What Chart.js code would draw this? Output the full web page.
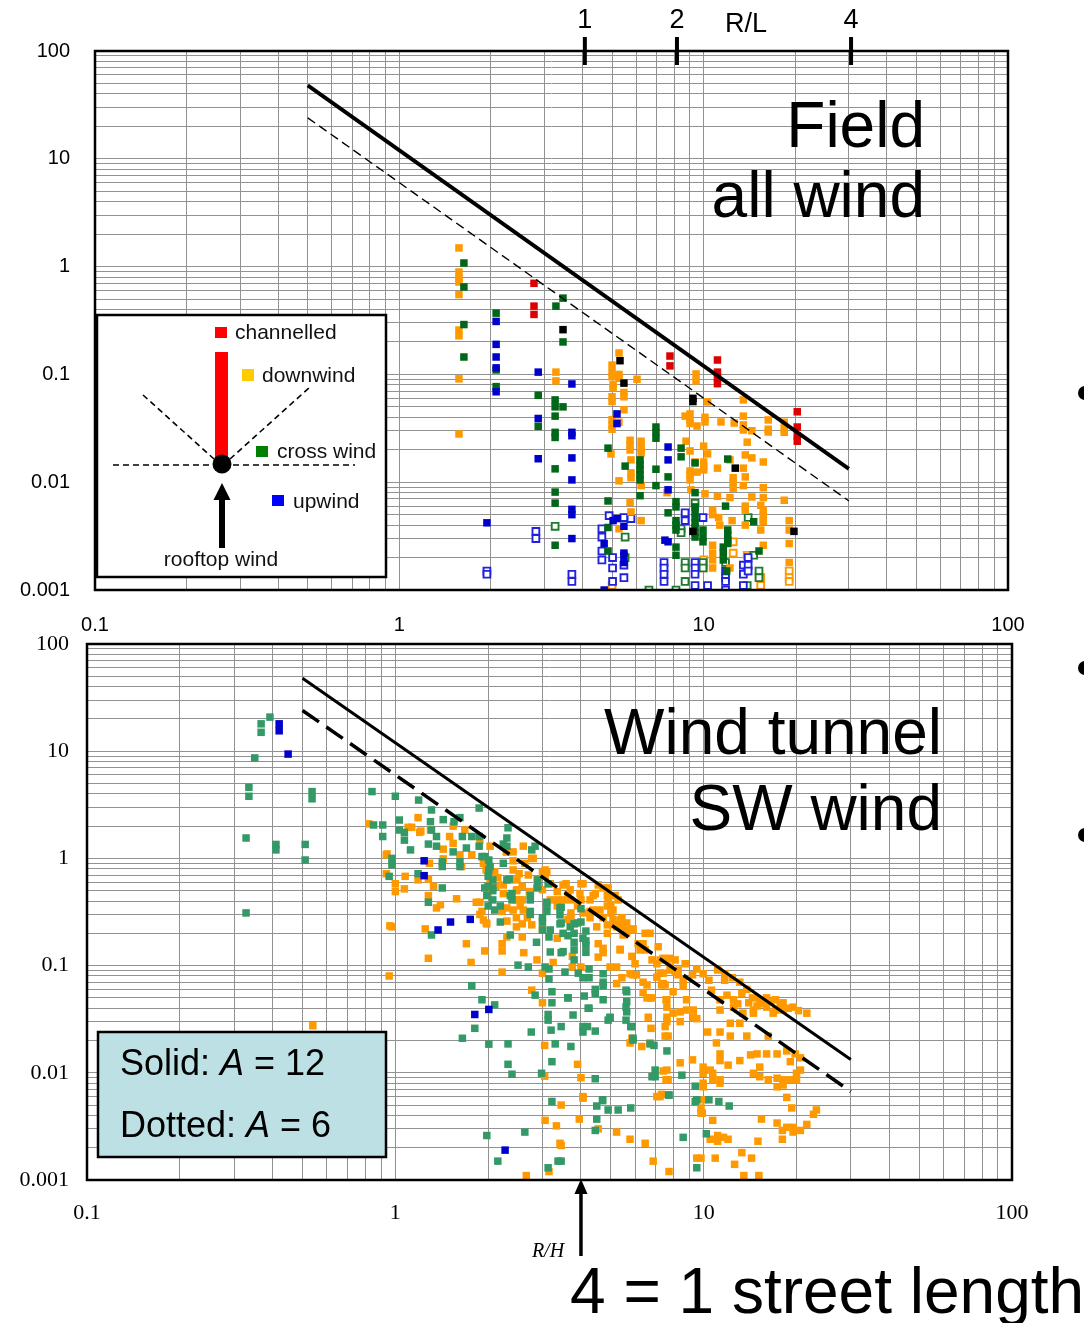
<!DOCTYPE html>
<html>
<head>
<meta charset="utf-8">
<title>Concentration vs R/H: field and wind tunnel</title>
<script src="https://cdn.jsdelivr.net/npm/chart.js@4.4.1/dist/chart.umd.min.js"></script>
<style>
  body { margin: 0; background: #fff; }
  #page { position: relative; width: 1084px; height: 1323px; overflow: hidden; }
  canvas { position: absolute; left: 0; }
  #fieldChart { top: 0; }
  #tunnelChart { top: 600px; }
</style>
</head>
<body>
<div id="page">
  <canvas id="fieldChart" width="1084" height="640"></canvas>
  <canvas id="tunnelChart" width="1084" height="723"></canvas>
</div>
<script>
// axis labels
const xTickLabels = ['0.1', '1', '10', '100'];
const yTickLabels = ['0.001', '0.01', '0.1', '1', '10', '100'];
const rlTickValues = [4.07, 8.17, 30.5];
const rlTickLabels = ['1', '2', '4'];

// model lines, C = A / (R/H)^2
const solidLine = [[0.5, 48], [30, 0.0133]];
const dottedLine = [[0.5, 24], [30, 0.0067]];
const lineNames = ['Solid', 'Dotted'];
const lineA = [12, 6];

// ---- field data (top) ----
const topRed = [[2.77,0.70],[2.77,0.43],[2.77,0.36],[7.75,0.148],[7.75,0.12],[11.1,0.136],[11.1,0.105],[11.1,0.093],
  [11.1,0.082],[20.3,0.045],[20.3,0.0325],[20.3,0.027],[20.3,0.024]];
const topBlack = [[3.45,0.26],[5.31,0.134],[5.47,0.083],[9.22,0.06],[9.22,0.056],[12.7,0.0135],[19.8,0.0035],[9.22,0.0035]];
const topOrange = [[1.57,1.49],[1.57,0.89],[1.57,0.78],[1.57,0.72],[1.57,0.55],[1.57,0.258],[1.57,0.228],[1.57,0.091],
  [1.57,0.028],[3.27,0.105],[3.27,0.087],[5.27,0.158],[5.0,0.122],[5.0,0.105],[5.0,0.095],[5.27,0.1],[5.27,0.092],
  [5.04,0.08],[5.04,0.075],[5.47,0.068],[5.47,0.062],[5.0,0.062],[5.0,0.056],[6.04,0.09],[5.47,0.047],[5.0,0.038],
  [5.0,0.034],[5.0,0.031],[5.27,0.036],[5.73,0.0245],[5.73,0.022],[5.73,0.0199],[6.23,0.024],[6.23,0.021],[6.23,0.0187],
  [4.96,0.0183],[5.77,0.0161],[5.77,0.0122],[5.77,0.011],[5.27,0.0103],[6.23,0.0093],[5.73,0.0065],[5.77,0.0053],
  [6.23,0.0044],[5.27,0.0037],[9.44,0.101],[9.44,0.087],[10.3,0.0556],[13.5,0.058],[13.5,0.041],[13.5,0.034],[13.5,0.0305],
  [14.4,0.03],[16.3,0.0378],[16.3,0.031],[16.3,0.0292],[18.4,0.036],[18.4,0.031],[18.4,0.029],[11.4,0.0362],[12.6,0.0354],
  [10.1,0.04],[10.1,0.0362],[9.51,0.0332],[9.02,0.043],[9.02,0.0378],[9.02,0.035],[8.69,0.041],[13.9,0.0235],[8.75,0.024],
  [10.0,0.0216],[9.02,0.0195],[10.3,0.0183],[13.7,0.0179],[14.4,0.0168],[15.7,0.0154],[12.2,0.0161],[10.0,0.0154],
  [10.0,0.014],[10.0,0.013],[11.1,0.0135],[13.5,0.0135],[9.37,0.0154],[9.02,0.0127],[9.02,0.0117],[9.02,0.0105],
  [9.51,0.0124],[12.5,0.011],[12.5,0.0099],[12.5,0.0088],[13.7,0.0112],[13.5,0.0093],[15.7,0.0089],[14.4,0.0073],
  [15.7,0.0072],[18.4,0.0068],[11.1,0.0074],[10.1,0.0078],[9.08,0.0085],[12.2,0.0072],[15.4,0.0061],[15.7,0.0055],
  [15.7,0.005],[15.7,0.0044],[15.7,0.0043],[13.7,0.006],[13.7,0.0055],[10.7,0.0055],[10.7,0.005],[11.2,0.0047],
  [19.1,0.0044],[19.1,0.0036],[19.1,0.0027],[19.1,0.0018],[15.4,0.0036],[13.7,0.004],[12.4,0.0044],[11.3,0.004],
  [10.7,0.0026],[10.7,0.0022],[10.7,0.0019],[10.7,0.0016],[15.7,0.0026],[12.2,0.0016],[7.58,0.008]];
const topOrangeOpen = [[10.0,0.0019],[10.0,0.0016],[12.5,0.0028],[12.5,0.0022],[13.9,0.0021],[15.4,0.0013],[15.4,0.0011],
  [19.1,0.0015],[19.1,0.0013],[19.1,0.0012],[5.0,0.0011]];
const topGreen = [[1.63,1.08],[1.63,0.647],[1.63,0.29],[1.63,0.145],[2.08,0.37],[2.08,0.11],[2.08,0.077],[3.45,0.51],
  [3.45,0.2],[3.45,0.05],[3.27,0.43],[2.86,0.064],[2.86,0.033],[3.25,0.058],[3.25,0.05],[3.25,0.041],[3.25,0.029],
  [3.25,0.026],[3.25,0.0133],[3.25,0.0081],[3.25,0.0064],[3.25,0.0026],[4.85,0.0207],[4.85,0.0067],[4.85,0.0038],
  [4.85,0.0023],[5.52,0.0141],[6.18,0.0161],[6.18,0.0145],[6.18,0.013],[6.18,0.0117],[6.18,0.0105],[6.18,0.0075],
  [6.97,0.0325],[6.97,0.029],[6.97,0.0256],[6.97,0.0132],[6.97,0.0093],[7.64,0.0112],[7.64,0.0052],[8.11,0.0066],
  [8.11,0.0059],[8.11,0.0044],[8.11,0.004],[8.11,0.0036],[8.11,0.0025],[8.11,0.0021],[8.43,0.0207],[8.43,0.0172],
  [9.37,0.0151],[9.37,0.008],[9.37,0.0059],[9.37,0.0053],[9.37,0.0047],[9.37,0.0042],[9.37,0.0038],[9.37,0.0034],
  [9.37,0.0031],[9.95,0.0036],[9.95,0.0031],[9.95,0.0028],[12.0,0.0164],[11.8,0.006],[12.0,0.0036],[12.0,0.0032],
  [12.0,0.0029],[12.0,0.0027],[11.6,0.0025],[11.6,0.0022],[11.6,0.0019],[11.9,0.0015],[14.6,0.0043],[15.2,0.0023]];
const topGreenOpen = [[3.25,0.0039],[5.52,0.0031],[5.52,0.002],[6.61,0.001],[8.43,0.0037],[8.43,0.0034],[8.69,0.0018],
  [8.69,0.0016],[8.69,0.0012],[8.11,0.001],[9.37,0.0064],[9.95,0.0018],[9.95,0.0016],[11.8,0.0018],[14.0,0.0047],
  [14.6,0.0021],[15.2,0.0015],[15.2,0.0013],[13.9,0.0015],[13.9,0.0011]];
const topBlue = [[1.94,0.0042],[2.08,0.31],[2.08,0.19],[2.08,0.145],[2.08,0.115],[2.08,0.069],[2.86,0.105],[2.86,0.039],
  [2.86,0.0165],[3.69,0.0815],[3.69,0.029],[3.69,0.027],[3.69,0.0168],[3.69,0.0105],[3.69,0.0056],[3.69,0.005],
  [3.69,0.003],[5.19,0.043],[5.19,0.035],[5.47,0.0039],[4.71,0.0027],[5.47,0.0022],[5.47,0.0021],[5.47,0.0018],
  [4.71,0.001],[5.04,0.0044],[5.19,0.0046],[7.64,0.0212],[7.64,0.0161],[7.64,0.0085],[7.46,0.0029],[7.64,0.0028]];
const topBlueOpen = [[1.94,0.0015],[1.94,0.0014],[2.81,0.0035],[2.81,0.003],[3.69,0.0014],[3.69,0.0012],[4.63,0.0037],
  [4.63,0.0031],[4.63,0.0023],[4.63,0.0019],[5.02,0.002],[5.02,0.0016],[5.02,0.0012],[5.47,0.0017],[5.47,0.0013],
  [4.89,0.0049],[5.47,0.0047],[5.77,0.0046],[7.41,0.0018],[7.41,0.0016],[7.41,0.0014],[7.41,0.0012],[8.69,0.0052],
  [8.69,0.0044],[9.37,0.0018],[9.37,0.0016],[9.37,0.0014],[9.37,0.0011],[9.95,0.0047],[10.3,0.0011],[11.8,0.0015],
  [11.8,0.0013],[11.8,0.0012],[11.8,0.001],[13.5,0.0017],[13.5,0.0014],[13.5,0.0011],[14.0,0.002],[14.0,0.0017],
  [14.0,0.0015]];

// ---- wind tunnel data (bottom) ----
const tunnelBlue = [[0.42,18],[0.42,15.5],[0.449,9.4],[1.24,0.95],[1.24,0.69],[1.51,0.255],[1.75,0.27],[1.376,0.215],
  [1.81,0.035],[2.01,0.039],[2.27,0.0019]];
const tunnelGreen = [[0.392,20.8],[0.367,18],[0.367,15],[0.35,8.65],[0.335,4.6],[0.335,3.8],[0.537,4.2],[0.537,3.6],
  [0.328,1.55],[0.41,1.35],[0.41,1.2],[0.51,1.35],[0.51,0.966],[0.328,0.31],[0.84,4.2],[1.0,3.8],[1.19,3.5],[0.85,2.05],
  [0.91,2.05],[0.91,1.6],[1.03,2.28],[1.03,1.84],[1.07,1.75],[1.07,1.48],[1.31,2.83],[1.3,2.2],[1.31,1.84],[1.36,1.6],
  [1.36,1.3],[1.43,2.3],[1.62,2.4],[1.55,2.2],[1.65,1.6],[1.77,1.6],[1.87,2.95],[1.87,1.6],[1.87,1.3],[1.7,1.25],
  [1.28,1.36],[1.12,1.2],[0.975,1.0],[0.975,0.87],[1.185,0.72],[0.955,0.68],[1.42,0.53],[1.28,0.39],[1.31,0.193],
  [1.42,0.93],[1.42,0.84],[1.54,1.15],[1.62,0.93],[1.62,0.84],[1.91,1.04],[2.01,0.966],[2.01,0.78],[2.07,0.63],
  [2.07,0.5],[2.07,0.41],[1.95,0.53],[1.98,0.45],[2.1,0.33],[2.19,0.255],[2.24,1.36],[2.32,1.93],[2.3,1.55],[2.3,1.3],
  [2.24,0.9],[2.34,0.64],[2.39,0.47],[2.39,0.41],[2.36,0.193],[2.5,0.101],[2.7,0.097],[2.74,0.45],[2.74,0.32],
  [2.77,1.2],[2.84,1.3],[2.9,0.63],[2.9,0.55],[2.87,0.165],[3.0,0.28],[3.0,0.215],[3.1,0.39],[3.1,0.32],[3.13,0.58],
  [3.15,0.185],[3.18,0.134],[3.06,0.097],[3.15,0.093],[3.15,0.075],[2.84,0.053],[3.22,0.057],[3.22,0.045],[3.13,0.035],
  [3.13,0.031],[3.42,0.345],[3.42,0.297],[3.45,0.132],[3.55,0.087],[3.63,0.05],[3.45,0.027],[3.3,0.0186],[3.22,0.0127],
  [3.8,0.245],[3.8,0.2],[3.8,0.165],[3.8,0.14],[3.8,0.113],[3.77,0.0346],[3.69,0.23],[4.0,0.255],[4.15,0.21],[4.15,0.17],
  [4.15,0.133],[4.06,0.077],[4.1,0.052],[4.22,0.04],[4.06,0.027],[4.06,0.024],[4.45,0.0245],[4.45,0.0088],[4.72,0.084],
  [4.72,0.07],[4.72,0.048],[4.97,0.0325],[5.6,0.059],[5.6,0.041],[5.6,0.031],[5.8,0.027],[5.9,0.021],[6.9,0.018],
  [7.6,0.016],[6.8,0.0092],[6.96,0.0106],[7.7,0.0062],[4.7,0.0056],[1.77,0.065],[1.91,0.048],[2.1,0.043],[1.81,0.026],
  [1.65,0.021],[2.01,0.0185],[2.32,0.0186],[2.32,0.012],[2.39,0.0097],[2.76,0.024],[2.98,0.0099],[3.2,0.025],
  [3.71,0.0176],[4.0,0.34],[3.45,0.35],[3.45,0.25],[3.5,0.135],[3.92,0.085],[4.25,0.093],[4.25,0.077],[4.72,0.065],
  [4.45,0.06],[4.45,0.055],[3.63,0.05],[4.25,0.04],[4.97,0.033],[5.63,0.057],[5.63,0.046],[5.63,0.037],[4.2,0.027],
  [5.85,0.027],[5.9,0.0202],[6.7,0.0186],[6.96,0.0092],[8.5,0.0095],[7.72,0.0062],[9.39,0.0075],[9.5,0.0056],
  [10.4,0.0056],[11.2,0.0054],[12.1,0.0049],[4.7,0.0055],[4.5,0.0049],[4.9,0.0045],[5.28,0.0045],[5.8,0.0047],
  [4.5,0.0037],[4.45,0.0029],[8.58,0.0025],[10.2,0.0027],[9.5,0.0013],[3.45,0.0015],[1.98,0.0026],[2.15,0.0015],
  [2.63,0.0028],[3.22,0.0054],[3.13,0.0013],[3.37,0.0015],[4.9,0.031],[9.39,0.0054],
  [1.95,1.04],[2.03,0.84],[2.0,0.68],[2.0,0.55],[2.0,0.36],[2.07,0.53],[2.19,0.36],[2.36,0.45],[2.3,0.63],[2.74,0.41],
  [2.74,0.3],[2.88,0.53],[3.0,0.255],[3.1,0.36],[3.18,0.215],[3.42,0.245],[3.5,0.2],[3.63,0.19],[3.9,0.25],[4.06,0.18],
  [4.15,0.155]];
const tunnelOrange = [[0.82,2.1],[1.1,1.95],[1.2,1.75],[1.185,2.4],[1.54,2.0],[1.54,1.38],[1.43,1.22],[0.935,1.08],
  [1.076,0.68],[0.935,0.72],[1.0,0.58],[1.0,0.49],[1.07,0.52],[1.185,0.63],[1.28,0.64],[1.33,0.55],[1.28,0.45],
  [1.36,0.345],[1.4,0.37],[1.25,0.22],[0.975,0.23],[1.7,0.16],[0.94,1.1],[1.13,1.95],[1.21,1.8],[1.29,0.9],[1.28,0.117],
  [0.955,0.08],[1.58,0.42],[1.76,0.107],[1.95,0.137],[2.22,0.137],[2.22,0.087],[1.64,0.84],[1.77,1.08],[1.93,0.9],
  [1.97,0.78],[1.88,0.39],[1.88,0.3],[1.97,0.25],[2.03,0.58],[2.03,0.51],[2.15,0.66],[2.3,1.15],[2.41,1.15],[2.41,0.95],
  [2.41,0.78],[2.47,0.5],[2.47,0.41],[2.58,0.245],[2.58,0.185],[2.63,0.9],[2.61,0.132],[2.72,0.49],[2.77,0.24],[2.77,1.0],
  [2.6,1.3],[2.7,0.7],[2.88,0.113],[3.0,0.22],[3.06,0.78],[3.06,0.68],[2.77,0.059],[3.0,0.045],[3.0,0.085],[3.35,0.49],
  [3.35,0.41],[3.35,0.18],[3.25,0.107],[3.58,0.58],[3.63,0.456],[3.71,0.31],[3.71,0.28],[3.97,0.47],[4.0,0.58],[4.28,0.41],
  [4.28,0.32],[4.5,0.23],[4.55,0.16],[4.55,0.12],[4.87,0.24],[4.87,0.2],[5.22,0.23],[5.36,0.14],[5.63,0.215],[5.22,0.097],
  [5.77,0.084],[6.05,0.082],[6.36,0.07],[6.36,0.056],[6.7,0.05],[7.12,0.15],[6.46,0.2],[7.05,0.104],[7.05,0.078],
  [7.39,0.068],[7.55,0.048],[7.6,0.033],[7.6,0.03],[7.67,0.022],[7.96,0.057],[7.96,0.036],[6.75,0.026],[6.61,0.033],
  [5.85,0.021],[3.9,0.012],[4.0,0.009],[3.05,0.018],[3.05,0.0093],[4.06,0.006],[7.39,0.0104],[7.55,0.0086],[7.05,0.006],
  [3.5,0.565],[3.69,0.51],[4.06,0.58],[4.0,0.41],[4.38,0.45],[4.55,0.565],[4.72,0.53],[4.87,0.45],[4.87,0.36],[5.08,0.33],
  [5.28,0.41],[4.61,0.33],[4.72,0.28],[5.43,0.28],[5.43,0.23],[5.9,0.22],[6.13,0.16],[6.46,0.14],[6.7,0.2],[7.39,0.117],
  [7.39,0.085],[7.79,0.117],[7.79,0.097],[8.08,0.087],[7.5,0.066],[2.1,0.75],[2.24,0.565],[2.36,0.63],[2.22,0.32],
  [2.54,0.36],[2.47,0.28],[2.47,0.23],[2.3,0.185],[2.22,0.16],[1.91,0.32],[1.98,0.245],[4.45,0.47],[4.9,0.53],[4.9,0.43],
  [5.16,0.45],[5.0,0.37],[5.0,0.31],[4.38,0.33],[5.08,0.27],[5.08,0.24],[5.36,0.266],[5.63,0.25],[5.63,0.2],[5.48,0.193],
  [5.9,0.215],[6.36,0.16],[6.22,0.14],[5.85,0.122],[5.36,0.142],[4.72,0.145],[4.72,0.132],[5.99,0.104],[5.9,0.082],
  [5.43,0.077],[5.22,0.068],[4.97,0.097],[4.0,0.097],[3.75,0.122],[3.75,0.097],[6.55,0.066],[6.55,0.05],[6.8,0.05],
  [6.8,0.113],[7.22,0.113],[7.22,0.085],[7.6,0.113],[8.08,0.113],[7.3,0.066],[7.79,0.091],[8.26,0.091],[8.26,0.082],
  [8.58,0.073],[8.58,0.064],[7.6,0.048],[7.6,0.041],[7.5,0.027],[7.5,0.022],[8.39,0.037],[8.39,0.03],[8.8,0.048],
  [8.8,0.0385],[9.25,0.0385],[9.25,0.033],[9.5,0.032],[8.71,0.104],[9.5,0.093],[9.2,0.082],[9.96,0.084],[10.4,0.073],
  [10.6,0.059],[11.1,0.091],[11.7,0.084],[11.7,0.073],[12.4,0.077],[13.1,0.07],[13.8,0.06],[11.9,0.053],[11.3,0.048],
  [11.3,0.0385],[12.5,0.048],[12.5,0.041],[13.3,0.055],[14.4,0.05],[15.2,0.048],[16.0,0.05],[16.0,0.041],[17.1,0.048],
  [17.1,0.0385],[18.1,0.045],[18.1,0.0385],[19.5,0.041],[21.6,0.036],[14.5,0.0385],[14.5,0.036],[16.8,0.036],
  [13.4,0.036],[14.0,0.045],[15.6,0.044],[16.5,0.046],[17.7,0.043],[18.8,0.04],[20.3,0.038],[12.9,0.044],[14.9,0.042],
  [13.1,0.029],[12.2,0.029],[12.2,0.022],[11.3,0.024],[10.3,0.024],[11.0,0.019],[13.8,0.022],[16.2,0.022],[11.3,0.015],
  [11.3,0.013],[12.0,0.0118],[13.1,0.013],[14.2,0.0147],[14.9,0.015],[16.0,0.015],[17.3,0.015],[18.6,0.016],[19.8,0.015],
  [20.6,0.0138],[14.5,0.0099],[15.2,0.0113],[15.2,0.0092],[16.2,0.0086],[17.3,0.0089],[17.3,0.0074],[18.1,0.0086],
  [18.1,0.0077],[19.1,0.0127],[19.1,0.0086],[20.0,0.0099],[20.0,0.0086],[20.6,0.0106],[9.96,0.0113],[9.96,0.0099],
  [10.5,0.0106],[10.7,0.0099],[10.7,0.0086],[9.96,0.0075],[9.9,0.0056],[9.9,0.0042],[9.2,0.0132],[8.39,0.0124],
  [7.6,0.0106],[7.67,0.0086],[7.22,0.006],[6.7,0.019],[6.3,0.0176],[5.77,0.019],[11.1,0.0026],[11.1,0.0023],[12.0,0.0024],
  [10.5,0.0024],[10.7,0.0036],[9.5,0.0016],[10.9,0.0016],[12.6,0.0014],[13.3,0.0018],[14.3,0.0016],[13.5,0.0011],
  [15.1,0.0011],[15.0,0.0023],[15.4,0.0037],[17.3,0.0034],[18.0,0.0029],[18.0,0.0024],[18.6,0.0031],[19.5,0.0031],
  [19.5,0.0028],[20.6,0.0029],[21.6,0.0033],[22.7,0.0041],[23.2,0.0045],[18.6,0.0059],[19.3,0.0047],[5.77,0.0024],
  [6.46,0.0022],[5.22,0.0028],[6.86,0.0015],[7.72,0.0012],[11.6,0.0025],[4.06,0.0058],[3.95,0.0037],[4.55,0.003],
  [3.45,0.005],[3.45,0.0021],[7.3,0.0063],[3.06,0.0036],[3.33,0.0032],[3.42,0.0022],[3.15,0.0012],[2.66,0.0011],
  [9.8,0.0016],[9.8,0.0047],[9.8,0.0042],[9.96,0.008],[9.96,0.0074],[11.3,0.0086],[11.3,0.008],[0.54,0.0275],[0.96,0.235],
  [1.3,1.84],[1.43,0.99],[1.62,1.08],[1.83,0.39],[1.93,0.266],[2.0,0.55],[2.0,0.47],[2.29,1.15],[2.3,0.345],[2.48,0.51],
  [2.54,0.41],[2.6,0.33],[2.74,0.47],[3.0,0.74],[3.1,0.75],[3.18,0.58],[2.8,1.0],
  [2.12,0.55],[2.24,0.47],[2.48,0.63],[2.58,0.55],[2.52,0.72],[2.88,0.63],[3.0,0.51],[3.18,0.41],[3.35,0.36],[3.5,0.41],
  [3.69,0.41],[3.9,0.36],[4.06,0.31],[4.28,0.28],[2.58,0.41],[2.41,0.33],[2.3,0.26],[2.68,0.28],[3.63,0.27],[1.88,1.48],
  [2.03,1.3],[1.68,1.84],[1.5,1.6]];

const toXY = (arr) => arr.map(([x, y]) => ({ x, y }));

// every 1..9 x 10^n between the decades, for the log grid
function logTicks(lo, hi) {
    const out = [];
    for (let e = lo; e < hi; e++) {
        for (let m = 1; m < 10; m++) out.push(m * Math.pow(10, e));
    }
    out.push(Math.pow(10, hi));
    return out;
}

function decadeLabel(v, lo, labels) {
    const lg = Math.log10(v);
    if (Math.abs(lg - Math.round(lg)) > 1e-6) return '';
    return labels[Math.round(lg) - lo];
}

function logAxis(lo, hi, labels, fit, font, padding) {
    return {
        type: 'logarithmic',
        min: Math.pow(10, lo),
        max: Math.pow(10, hi),
        afterBuildTicks: (scale) => {
            scale.ticks = logTicks(lo, hi).map(v => ({ value: v }));
        },
        afterFit: (scale) => {
            if (fit.width) scale.width = fit.width;
            if (fit.height) scale.height = fit.height;
        },
        grid: { color: '#929292', lineWidth: 1, drawTicks: false },
        border: { display: false },
        ticks: {
            autoSkip: false,
            maxRotation: 0,
            padding: padding,
            color: '#000',
            font: font,
            callback: (v) => decadeLabel(v, lo, labels)
        }
    };
}

function points(data, color, radius) {
    return {
        data: toXY(data),
        pointStyle: 'rect',
        pointRadius: radius,
        backgroundColor: color,
        borderWidth: 0
    };
}

function openPoints(data, color) {
    return {
        data: toXY(data),
        pointStyle: 'rect',
        pointRadius: 4.8,
        backgroundColor: '#fff',
        borderColor: color,
        borderWidth: 1.9
    };
}

function modelLine(data, width, dash) {
    return {
        data: toXY(data),
        showLine: true,
        pointRadius: 0,
        borderColor: '#000',
        borderWidth: width,
        borderDash: dash,
        fill: false
    };
}

function drawFrame(chart, width) {
    const { ctx, chartArea: a } = chart;
    ctx.save();
    ctx.strokeStyle = '#000';
    ctx.lineWidth = width;
    ctx.strokeRect(a.left, a.top, a.right - a.left, a.bottom - a.top);
    ctx.restore();
}

function bullet(ctx, x, y) {
    ctx.beginPath();
    ctx.arc(x, y, 7, 0, Math.PI * 2);
    ctx.fillStyle = '#000';
    ctx.fill();
}

const SANS = '"Liberation Sans", Arial, sans-serif';
const SERIF = '"Liberation Serif", "Times New Roman", serif';

// title, R/L axis and the schematic key of the field panel
const fieldDecor = {
    id: 'fieldDecor',
    afterDraw(chart) {
        const { ctx, chartArea: a, scales: { x } } = chart;
        drawFrame(chart, 2.5);
        ctx.save();

        // R/L ticks across the top edge
        ctx.strokeStyle = '#000';
        ctx.lineWidth = 4;
        ctx.fillStyle = '#000';
        ctx.font = '27px ' + SANS;
        ctx.textAlign = 'center';
        ctx.textBaseline = 'middle';
        rlTickValues.forEach((v, i) => {
            const px = x.getPixelForValue(v);
            ctx.beginPath();
            ctx.moveTo(px, a.top - 14);
            ctx.lineTo(px, a.top + 14);
            ctx.stroke();
            ctx.fillText(rlTickLabels[i], px, 21);
        });
        ctx.fillText('R/L', 746, 25);

        // panel title
        ctx.font = '64px ' + SANS;
        ctx.textAlign = 'right';
        ctx.textBaseline = 'alphabetic';
        ctx.fillText('Field', 925, 147);
        ctx.fillText('all wind', 925, 217);

        // key box
        ctx.fillStyle = '#fff';
        ctx.fillRect(97, 315, 289, 262);
        ctx.lineWidth = 2.5;
        ctx.strokeRect(97, 315, 289, 262);

        ctx.lineWidth = 1.6;
        ctx.setLineDash([6, 4]);
        ctx.beginPath();
        ctx.moveTo(113, 465); ctx.lineTo(355, 465);
        ctx.moveTo(143, 395); ctx.lineTo(214, 459);
        ctx.moveTo(230, 459); ctx.lineTo(310, 387);
        ctx.stroke();
        ctx.setLineDash([]);

        ctx.fillStyle = '#ff0000';
        ctx.fillRect(215, 352, 13, 110);
        ctx.fillRect(215, 327, 12, 11);
        ctx.fillStyle = '#ffcc00';
        ctx.fillRect(242, 369, 12, 12);
        ctx.fillStyle = '#008000';
        ctx.fillRect(256, 446, 12, 11);
        ctx.fillStyle = '#0000ff';
        ctx.fillRect(272, 495, 12, 11);

        ctx.fillStyle = '#000';
        ctx.beginPath();
        ctx.arc(222, 464, 9.5, 0, Math.PI * 2);
        ctx.fill();
        ctx.fillRect(219, 497, 6, 51);
        ctx.beginPath();
        ctx.moveTo(222, 483); ctx.lineTo(230.5, 500); ctx.lineTo(213.5, 500);
        ctx.closePath();
        ctx.fill();

        ctx.fillStyle = '#111';
        ctx.font = '21px ' + SANS;
        ctx.textAlign = 'left';
        ctx.textBaseline = 'middle';
        ctx.fillText('channelled', 235, 333);
        ctx.fillText('downwind', 262, 376);
        ctx.fillText('cross wind', 277, 452);
        ctx.fillText('upwind', 293, 502);
        ctx.textAlign = 'center';
        ctx.fillText('rooftop wind', 221, 560);

        bullet(ctx, 1085, 393);
        ctx.restore();
    }
};

// title, A key, R/H marker and caption of the wind tunnel panel (canvas top = 600)
const tunnelDecor = {
    id: 'tunnelDecor',
    afterDraw(chart) {
        const { ctx, chartArea: a, scales: { x } } = chart;
        const off = 600;
        drawFrame(chart, 2.5);
        ctx.save();
        ctx.fillStyle = '#000';

        ctx.font = '64px ' + SANS;
        ctx.textAlign = 'right';
        ctx.textBaseline = 'alphabetic';
        ctx.fillText('Wind tunnel', 942, 754 - off);
        ctx.fillText('SW wind', 942, 830 - off);

        // A key
        ctx.fillStyle = '#bde0e4';
        ctx.fillRect(98, 1032 - off, 288, 125);
        ctx.strokeStyle = '#000';
        ctx.lineWidth = 2.5;
        ctx.strokeRect(98, 1032 - off, 288, 125);
        ctx.fillStyle = '#000';
        ctx.textAlign = 'left';
        lineNames.forEach((name, i) => {
            const y = [1075, 1137][i] - off;
            let cx = 120;
            ctx.font = '36px ' + SANS;
            ctx.fillText(name + ': ', cx, y);
            cx += ctx.measureText(name + ': ').width;
            ctx.font = 'italic 36px ' + SANS;
            ctx.fillText('A', cx, y);
            cx += ctx.measureText('A').width;
            ctx.font = '36px ' + SANS;
            ctx.fillText(' = ' + lineA[i], cx, y);
        });

        // R/H = 4 marker below the axis
        const px = x.getPixelForValue(4);
        ctx.lineWidth = 3.5;
        ctx.beginPath();
        ctx.moveTo(px, a.bottom + 12);
        ctx.lineTo(px, a.bottom + 76);
        ctx.stroke();
        ctx.beginPath();
        ctx.moveTo(px, a.bottom - 1); ctx.lineTo(px + 6.5, a.bottom + 14); ctx.lineTo(px - 6.5, a.bottom + 14);
        ctx.closePath();
        ctx.fill();
        ctx.font = 'italic 20px ' + SERIF;
        ctx.textAlign = 'center';
        ctx.textBaseline = 'middle';
        ctx.fillText('R/H', 548, 1252 - off);

        ctx.font = '64px ' + SANS;
        ctx.textAlign = 'left';
        ctx.textBaseline = 'alphabetic';
        ctx.fillText('4 = 1 street length', 570, 1313 - off);

        bullet(ctx, 1085, 668 - off);
        bullet(ctx, 1085, 835 - off);
        ctx.restore();
    }
};

const baseOptions = {
    responsive: false,
    animation: false,
    events: [],
    plugins: { legend: { display: false }, tooltip: { enabled: false } }
};

new Chart(document.getElementById('fieldChart'), {
    type: 'scatter',
    data: {
        datasets: [
            modelLine(solidLine, 3.8, []),
            modelLine(dottedLine, 1.4, [9, 5]),
            points(topBlack, '#000000', 5.3),
            points(topRed, '#dd0000', 5.3),
            points(topBlue, '#0000cc', 5.3),
            points(topGreen, '#006618', 5.3),
            points(topOrange, '#ff9900', 5.3),
            openPoints(topBlueOpen, '#2222dd'),
            openPoints(topGreenOpen, '#1e7a2e'),
            openPoints(topOrangeOpen, '#ff9900')
        ]
    },
    options: {
        ...baseOptions,
        layout: { padding: { top: 51, right: 76, left: 0, bottom: 0 } },
        scales: {
            x: logAxis(-1, 2, xTickLabels, { height: 50 }, { family: SANS, size: 20 }, 23),
            y: logAxis(-3, 2, yTickLabels, { width: 95 }, { family: SANS, size: 20 }, 25)
        }
    },
    plugins: [fieldDecor]
});

new Chart(document.getElementById('tunnelChart'), {
    type: 'scatter',
    data: {
        datasets: [
            modelLine(solidLine, 3, []),
            modelLine(dottedLine, 3.5, [20, 9]),
            points(tunnelBlue, '#0000cc', 5.3),
            points(tunnelGreen, '#339966', 5.3),
            points(tunnelOrange, '#ff9900', 5.3)
        ]
    },
    options: {
        ...baseOptions,
        layout: { padding: { top: 44, right: 72, left: 0, bottom: 0 } },
        scales: {
            x: logAxis(-1, 2, xTickLabels, { height: 143 }, { family: SERIF, size: 22 }, 20),
            y: logAxis(-3, 2, yTickLabels, { width: 87 }, { family: SERIF, size: 22 }, 18)
        }
    },
    plugins: [tunnelDecor]
});
</script>
</body>
</html>
